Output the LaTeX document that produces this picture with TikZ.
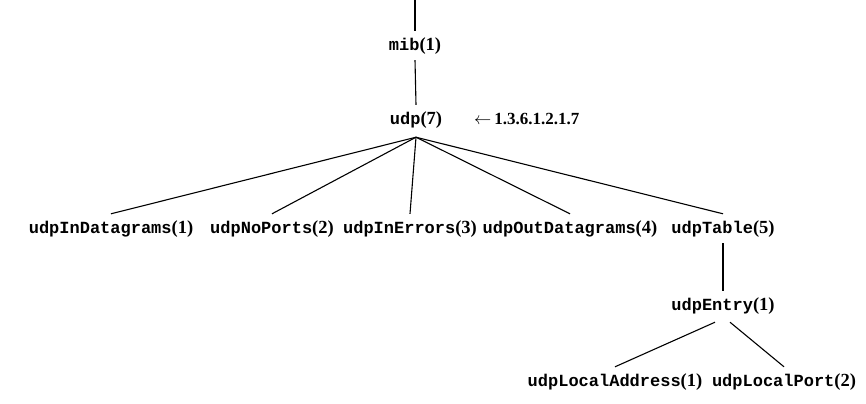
\documentclass[tikz,border=0pt]{standalone}
\usepackage{fontspec}
\newfontfamily\monofont{Liberation Mono}[BoldFont={Liberation Mono Bold}]
\newfontfamily\numfont{Liberation Serif}[BoldFont={Liberation Serif Bold}]
\newcommand{\oid}[2]{{\monofont\bfseries #1}{\numfont\bfseries\fontsize{18.5bp}{20bp}\selectfont(#2)}}
\begin{document}
\begin{tikzpicture}[x=1bp,y=-1bp,
  mibnode/.style={anchor=base, font=\fontsize{17bp}{20bp}\selectfont,
    text height=13bp, text depth=4bp, inner xsep=1bp, inner ysep=6bp},
  edge/.style={line width=1.1bp, black}]
\useasboundingbox (0,0) rectangle (866,403);
\coordinate (top) at (415,0);
\node[mibnode] (mib) at (415,50) {\oid{mib}{1}};
\node[mibnode] (udp) at (416,124) {\oid{udp}{7}};
\node[anchor=base west, inner sep=0pt, font=\fontsize{17bp}{20bp}\selectfont] (oidlabel) at (474,124)
  {$\leftarrow$\,{\numfont\bfseries 1.3.6.1.2.1.7}};
\node[mibnode] (c1) at (111,233) {\oid{udpInDatagrams}{1}};
\node[mibnode] (c2) at (272,233) {\oid{udpNoPorts}{2}};
\node[mibnode] (c3) at (410,233) {\oid{udpInErrors}{3}};
\node[mibnode] (c4) at (570,233) {\oid{udpOutDatagrams}{4}};
\node[mibnode] (c5) at (723,233) {\oid{udpTable}{5}};
\node[mibnode] (entry) at (723,310) {\oid{udpEntry}{1}};
\node[mibnode] (la) at (615,386) {\oid{udpLocalAddress}{1}};
\node[mibnode] (lp) at (784,386) {\oid{udpLocalPort}{2}};
\draw[edge] (top) -- (mib.north);
\draw[edge] (mib.south) -- (udp.north);
\foreach \c in {c1,c2,c3,c4,c5}
  \draw[edge] ([yshift=-3bp]udp.south) -- (\c.north);
\draw[edge] (c5.south) -- (entry.north);
\draw[edge] ([xshift=-8bp,yshift=-2bp]entry.south) -- (la.north);
\draw[edge] ([xshift=7bp,yshift=-2bp]entry.south) -- (lp.north);
\end{tikzpicture}
\end{document}
